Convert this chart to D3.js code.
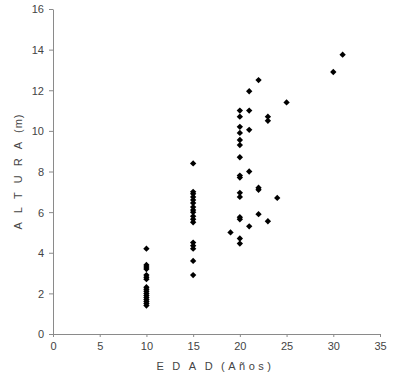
<!DOCTYPE html>
<html>
<head>
<meta charset="utf-8">
<script src="https://cdn.jsdelivr.net/npm/d3@7"></script>
<style>
  body { margin: 0; background: #fff; }
  svg { font-family: "Liberation Sans", Arial, sans-serif; }
  .axis path, .axis line { stroke: #8a8a8a; }
  .axis text { fill: #444; font-size: 11px; }
</style>
</head>
<body>
<svg id="chart" width="411" height="381"></svg>
<script>
// edad (años) -> alturas (m), one array per age group
const ages = [10, 15, 19, 20, 21, 22, 23, 24, 25, 30, 31];
const heights10 = [4.2, 3.4, 3.3, 3.2, 2.9, 2.8, 2.7, 2.3, 2.2, 2.1, 2.0, 1.9, 1.8, 1.7, 1.6, 1.5, 1.4];
const heights15 = [8.4, 7.0, 6.9, 6.75, 6.6, 6.45, 6.25, 6.1, 6.0, 5.8, 5.65, 5.5, 4.5, 4.35, 4.2, 3.6, 2.9];
const heights19 = [5.0];
const heights20 = [11.0, 10.7, 10.2, 9.9, 9.55, 9.3, 8.7, 7.8, 7.7, 6.95, 6.75, 5.75, 5.65, 4.7, 4.45];
const heights21 = [11.95, 11.0, 10.05, 8.0, 5.3];
const heights22 = [12.5, 7.2, 7.1, 5.9];
const heights23 = [10.7, 10.5, 5.55];
const heights24 = [6.7];
const heights25 = [11.4];
const heights30 = [12.9];
const heights31 = [13.75];
const xTicks = [0, 5, 10, 15, 20, 25, 30, 35];
const yTicks = [0, 2, 4, 6, 8, 10, 12, 14, 16];

const groups = [heights10, heights15, heights19, heights20, heights21, heights22,
  heights23, heights24, heights25, heights30, heights31];
const points = ages.flatMap((a, i) => groups[i].map(h => ({edad: a, altura: h})));

const margin = {left: 53, top: 9, right: 31, bottom: 47};
const svg = d3.select('#chart');
const width = +svg.attr('width') - margin.left - margin.right;
const height = +svg.attr('height') - margin.top - margin.bottom;
const g = svg.append('g').attr('transform', `translate(${margin.left},${margin.top})`);

const x = d3.scaleLinear().domain([0, 35]).range([0, width]);
const y = d3.scaleLinear().domain([0, 16]).range([height, 0]);

g.append('g').attr('class', 'axis')
  .attr('transform', `translate(0,${height})`)
  .call(d3.axisBottom(x).tickValues(xTicks).tickSize(3).tickSizeOuter(0).tickPadding(5));

g.append('g').attr('class', 'axis')
  .call(d3.axisLeft(y).tickValues(yTicks).tickSize(4).tickSizeOuter(0).tickPadding(5))
  .selectAll('text').attr('dy', '0.36em');

// markers: small square turned 45° so it reads as a diamond
const marker = d3.symbol().type(d3.symbolSquare).size(20);
g.selectAll('path.pt').data(points).enter()
  .append('path').attr('class', 'pt')
  .attr('d', marker)
  .attr('transform', d => `translate(${x(d.edad)},${y(d.altura)}) rotate(45)`)
  .attr('fill', '#000');

// axis titles
const xTitle = svg.append('text')
  .attr('x', margin.left + width / 2 - 1).attr('y', 370)
  .attr('text-anchor', 'middle')
  .style('font-size', '11px').attr('fill', '#444');
xTitle.append('tspan').attr('letter-spacing', '8.5px').text('EDAD');
xTitle.append('tspan').attr('letter-spacing', '3.5px').text('(Años)');

const yTitle = svg.append('text')
  .attr('transform', `translate(22,${margin.top + height / 2}) rotate(-90)`)
  .attr('text-anchor', 'middle')
  .style('font-size', '11px').attr('fill', '#444');
yTitle.append('tspan').attr('letter-spacing', '9px').text('ALTURA');
yTitle.append('tspan').attr('letter-spacing', '1px').text('(m)');
</script>
</body>
</html>
